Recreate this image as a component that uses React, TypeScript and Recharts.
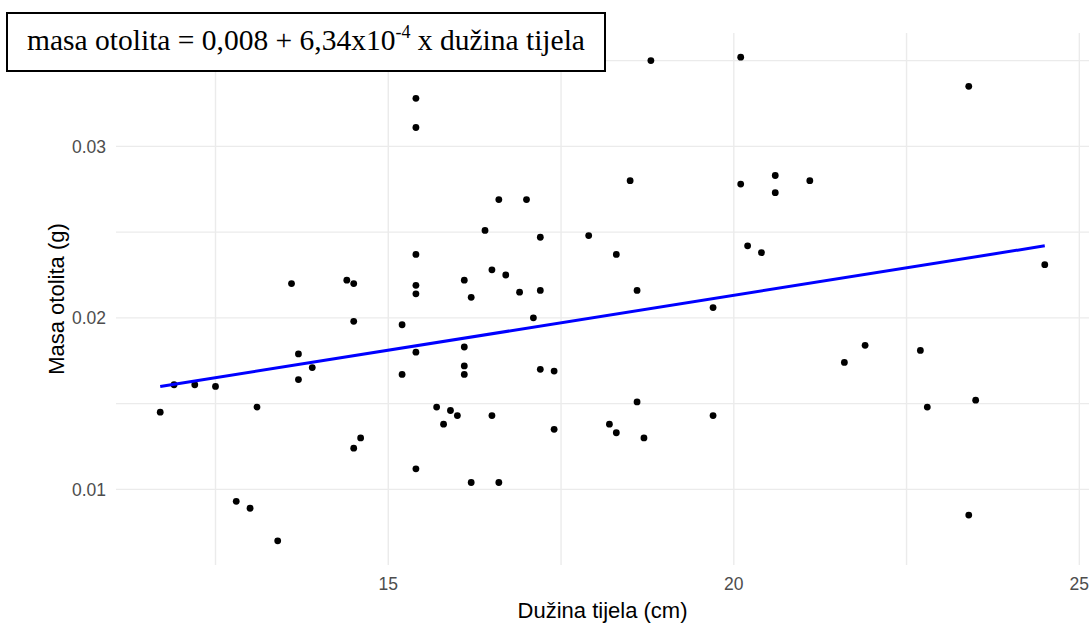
import React from 'react';
import { ScatterChart, Scatter, XAxis, YAxis, CartesianGrid, Label } from 'recharts';

// Body length (cm)
const bodyLength = [
  11.7, 11.9, 12.2, 12.5, 13.6, 14.4, 14.5, 14.5, 13.7, 13.9, 13.7, 13.1, 14.5, 14.6, 12.8, 13.0, 13.4,
  15.2, 15.4, 15.4, 15.4, 15.2, 15.7, 15.4, 15.4, 15.4, 18.8, 16.6, 17.0, 18.5, 16.4, 17.2, 17.9, 15.4,
  18.3, 16.5, 16.7, 16.1, 16.2, 16.9, 17.2, 18.6, 17.1, 19.7, 16.1, 16.1, 16.1, 17.2, 17.4, 15.9, 15.8,
  16.0, 16.5, 17.4, 18.2, 18.3, 18.6, 18.7, 19.7, 16.2, 16.6, 20.1, 23.4, 20.1, 20.6, 20.6, 21.1, 20.2,
  20.4, 24.5, 21.9, 22.7, 21.6, 22.8, 23.5, 23.4,
];

// Otolith mass (g)
const otolithMass = [
  0.0145, 0.0161, 0.0161, 0.0160, 0.0220, 0.0222, 0.0220, 0.0198, 0.0179, 0.0171, 0.0164, 0.0148, 0.0124,
  0.0130, 0.0093, 0.0089, 0.0070, 0.0196, 0.0219, 0.0214, 0.0180, 0.0167, 0.0148, 0.0112, 0.0328, 0.0311,
  0.0350, 0.0269, 0.0269, 0.0280, 0.0251, 0.0247, 0.0248, 0.0237, 0.0237, 0.0228, 0.0225, 0.0222, 0.0212,
  0.0215, 0.0216, 0.0216, 0.0200, 0.0206, 0.0183, 0.0172, 0.0167, 0.0170, 0.0169, 0.0146, 0.0138, 0.0143,
  0.0143, 0.0135, 0.0138, 0.0133, 0.0151, 0.0130, 0.0143, 0.0104, 0.0104, 0.0352, 0.0335, 0.0278, 0.0283,
  0.0273, 0.0280, 0.0242, 0.0238, 0.0231, 0.0184, 0.0181, 0.0174, 0.0148, 0.0152, 0.0085,
];

// Fitted regression line endpoints
const fitX = [11.7, 24.5];
const fitY = [0.016, 0.0242];

const xTicks = [15, 20, 25];
const yTicks = [0.01, 0.02, 0.03];
const xGrid = [12.5, 15, 17.5, 20, 22.5, 25];
const yGrid = [0.01, 0.015, 0.02, 0.025, 0.03, 0.035];
const xDomain = [11.06, 25.14];
const yDomain = [0.00559, 0.03661];

const points = bodyLength.map((x, i) => ({ x, y: otolithMass[i] }));
const fitData = fitX.map((x, i) => ({ x, y: fitY[i] }));

const tickStyle = { fontFamily: 'Liberation Sans, Arial, sans-serif', fontSize: 17.5, fill: '#4D4D4D' };
const titleFont = 'Liberation Sans, Arial, sans-serif';

const Dot = (props: any) => <circle cx={props.cx} cy={props.cy} r={3.4} fill="#000000" />;
const NoShape = () => <g />;

const YTitle = (props: any) => {
  const vb = props.viewBox || { x: 0, y: 0, width: 0, height: 0 };
  const cy = vb.y + vb.height / 2;
  return (
    <text
      transform={`translate(63.5, ${cy}) rotate(-90)`}
      textAnchor="middle"
      style={{ fontFamily: titleFont, fontSize: 22, fill: '#000' }}
    >
      Masa otolita (g)
    </text>
  );
};

export default function App() {
  return (
    <div style={{ position: 'absolute', left: 0, top: 0, width: 1092, height: 624, background: '#fff' }}>
      <ScatterChart width={1092} height={624} margin={{ top: 33, right: 3, bottom: 0, left: 0 }}>
        <CartesianGrid
          stroke="#EBEBEB"
          strokeWidth={1.4}
          horizontalValues={yGrid}
          verticalValues={xGrid}
        />
        <XAxis
          type="number"
          dataKey="x"
          domain={xDomain}
          ticks={xTicks}
          allowDataOverflow
          axisLine={false}
          tickLine={false}
          tickSize={0}
          tickMargin={13}
          height={59}
          tick={tickStyle}
        >
          <Label
            value="Dužina tijela (cm)"
            position="insideBottom"
            offset={6}
            style={{ fontFamily: titleFont, fontSize: 22, fill: '#000' }}
          />
        </XAxis>
        <YAxis
          type="number"
          dataKey="y"
          domain={yDomain}
          ticks={yTicks}
          allowDataOverflow
          axisLine={false}
          tickLine={false}
          tickSize={0}
          tickMargin={10}
          width={116}
          tick={tickStyle}
          label={{ content: YTitle }}
        />
        <Scatter data={points} shape={Dot} isAnimationActive={false} />
        <Scatter
          data={fitData}
          shape={NoShape}
          line={{ stroke: '#0000FF', strokeWidth: 3 }}
          isAnimationActive={false}
        />
      </ScatterChart>
      <div
        style={{
          position: 'absolute',
          left: 6,
          top: 12,
          width: 600,
          height: 60,
          boxSizing: 'border-box',
          border: '2px solid #000',
          background: '#fff',
          fontFamily: 'Liberation Serif, Times New Roman, serif',
          fontSize: 29.5,
          lineHeight: '52px',
          textAlign: 'center',
          whiteSpace: 'nowrap',
          color: '#000',
        }}
      >
        masa otolita = 0,008 + 6,34x10
        <span style={{ fontSize: 18, position: 'relative', top: -12 }}>-4</span> x dužina tijela
      </div>
    </div>
  );
}
